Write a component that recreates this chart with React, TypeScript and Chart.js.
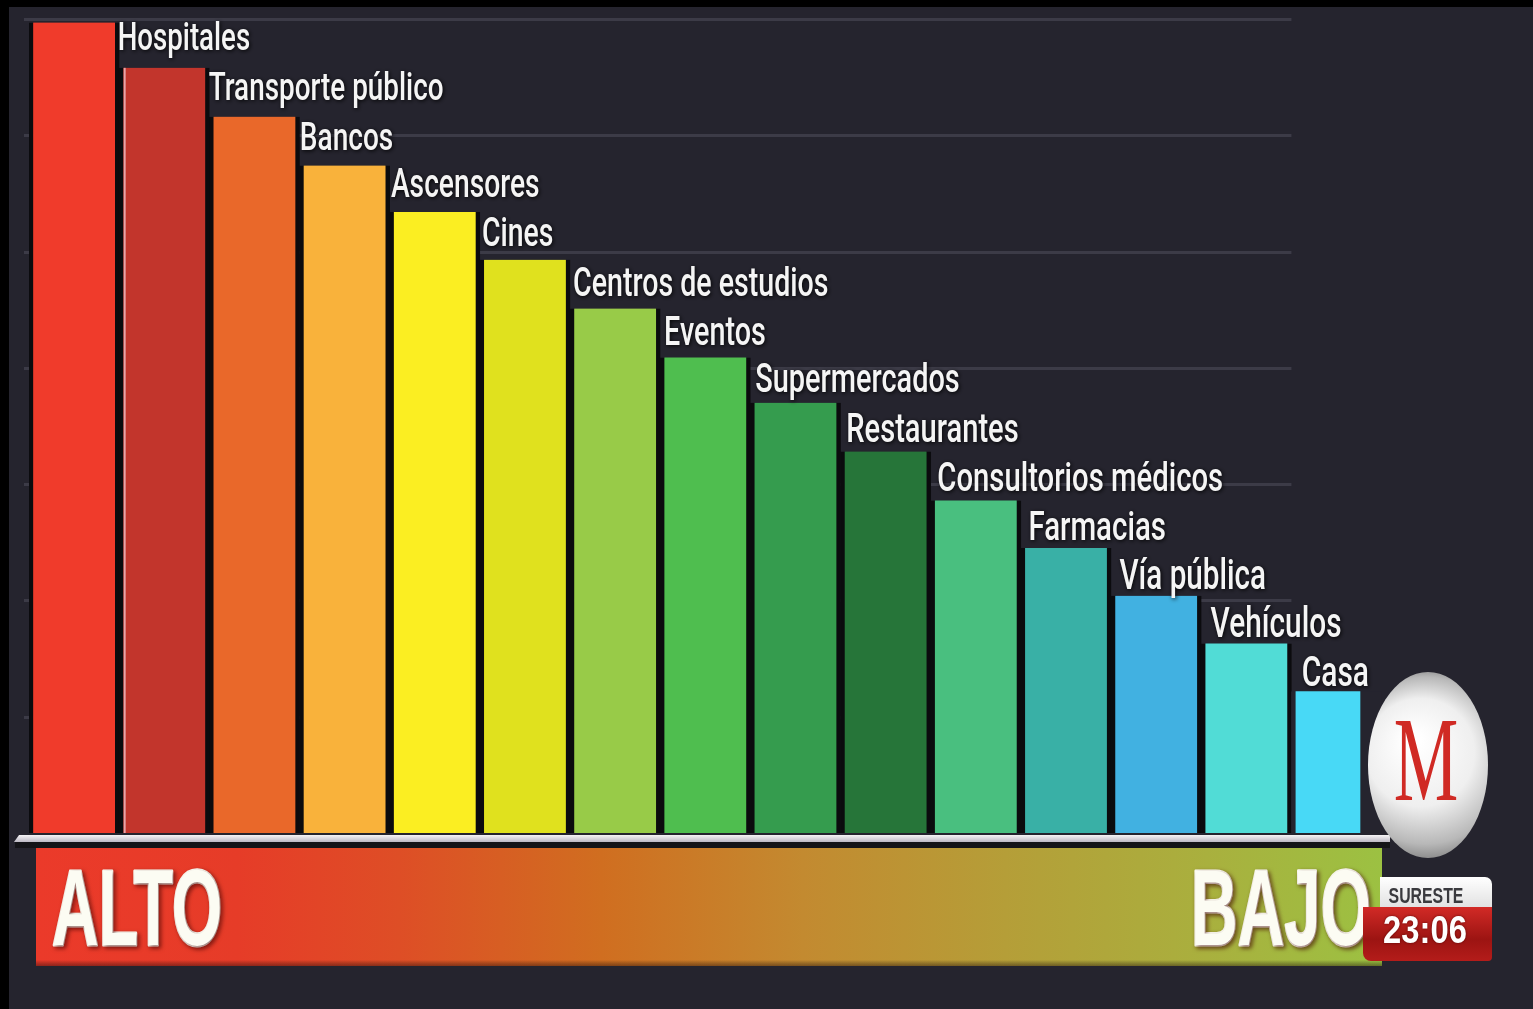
import React, { useEffect, useRef } from 'react';
import { Chart, registerables } from 'chart.js';

Chart.register(...registerables);

// ---- data ----
const categories = [
  'Hospitales',
  'Transporte público',
  'Bancos',
  'Ascensores',
  'Cines',
  'Centros de estudios',
  'Eventos',
  'Supermercados',
  'Restaurantes',
  'Consultorios médicos',
  'Farmacias',
  'Vía pública',
  'Vehículos',
  'Casa',
  '',
];
const riskValues = [6.97, 6.58, 6.16, 5.74, 5.34, 4.93, 4.51, 4.09, 3.7, 3.28, 2.86, 2.45, 2.04, 1.63, 1.22];
const barColors = [
  '#f03b2b', '#c2352c', '#e9682a', '#f9b23b', '#fbee22', '#e0e11e', '#98cb48', '#4fbe4f',
  '#359c4e', '#267539', '#49bf7f', '#39b0a6', '#41b1e1', '#51dcd6', '#48d9f6',
];
const gridTicks = [1, 2, 3, 4, 5, 6, 7];
const scaleLabels = ['ALTO', 'BAJO'];
const stationLabel = 'SURESTE';
const timeLabel = '23:06';
const logoLetter = 'M';

const BG = '#25242e';

const W = 1533;
const H = 1009;

function drawScaledText(
  ctx: CanvasRenderingContext2D,
  text: string,
  x: number,
  y: number,
  sx: number,
  align: 'left' | 'center' = 'left',
  strokeW = 0,
) {
  ctx.save();
  ctx.translate(x, y);
  ctx.scale(sx, 1);
  ctx.textAlign = align;
  if (strokeW > 0) {
    ctx.lineWidth = strokeW;
    ctx.strokeStyle = ctx.fillStyle as string;
    ctx.lineJoin = 'round';
    ctx.strokeText(text, 0, 0);
  }
  ctx.fillText(text, 0, 0);
  ctx.restore();
}

const decorPlugin = {
  id: 'decor',
  beforeDraw(chart: any) {
    const ctx: CanvasRenderingContext2D = chart.ctx;
    ctx.save();
    ctx.fillStyle = '#000000';
    ctx.fillRect(0, 0, chart.width, chart.height);
    ctx.fillStyle = BG;
    ctx.fillRect(9, 7, chart.width - 9, chart.height - 7);
    ctx.restore();
  },
  beforeDatasetsDraw(chart: any) {
    const ctx: CanvasRenderingContext2D = chart.ctx;
    const y = chart.scales.y;
    const meta = chart.getDatasetMeta(0);
    const a = meta.data[meta.data.length - 2];
    const b = meta.data[meta.data.length - 1];
    const xEnd = (a.x + b.x) / 2;
    const xStart = chart.chartArea.left - 5;
    ctx.save();
    ctx.strokeStyle = '#3c3b47';
    ctx.lineWidth = 3;
    gridTicks.forEach((t) => {
      const py = Math.round(y.getPixelForValue(t)) + 0.5;
      ctx.beginPath();
      ctx.moveTo(xStart, py);
      ctx.lineTo(xEnd, py);
      ctx.stroke();
    });
    ctx.restore();
  },
  afterDatasetsDraw(chart: any) {
    const ctx: CanvasRenderingContext2D = chart.ctx;
    const area = chart.chartArea;
    const meta = chart.getDatasetMeta(0);
    const bars = meta.data.map((el: any) => el.getProps(['x', 'y', 'base', 'width'], true));

    ctx.save();
    // light stripe on second bar's left edge
    {
      const b = bars[1];
      const left = b.x - b.width / 2 + 4.5;
      ctx.fillStyle = 'rgba(236,176,182,0.9)';
      ctx.fillRect(left, b.y, 2, b.base - b.y);
    }

    // baseline bar
    const lineTop = area.bottom + 2;
    const g1 = ctx.createLinearGradient(0, lineTop, 0, lineTop + 7);
    g1.addColorStop(0, '#f6f4f6');
    g1.addColorStop(1, '#bdb9c4');
    ctx.fillStyle = '#141418';
    ctx.fillRect(15, lineTop + 7, 1375, 6);
    ctx.fillStyle = g1;
    ctx.beginPath();
    ctx.moveTo(19, lineTop);
    ctx.lineTo(1390, lineTop);
    ctx.lineTo(1390, lineTop + 7);
    ctx.lineTo(14, lineTop + 7);
    ctx.closePath();
    ctx.fill();

    // gradient band
    const bandL = 36;
    const bandR = 1382;
    const bandT = lineTop + 13;
    const bandB = 966;
    const g2 = ctx.createLinearGradient(bandL, 0, bandR, 0);
    g2.addColorStop(0, '#eb3a2a');
    g2.addColorStop(0.15, '#e63c28');
    g2.addColorStop(0.27, '#de4e26');
    g2.addColorStop(0.42, '#d06e20');
    g2.addColorStop(0.57, '#c38a30');
    g2.addColorStop(0.72, '#b59e38');
    g2.addColorStop(0.87, '#a9b03e');
    g2.addColorStop(1, '#9cc142');
    ctx.fillStyle = g2;
    ctx.fillRect(bandL, bandT, bandR - bandL, bandB - bandT);
    const g3 = ctx.createLinearGradient(0, bandB - 6, 0, bandB);
    g3.addColorStop(0, 'rgba(0,0,0,0)');
    g3.addColorStop(1, 'rgba(30,10,10,0.45)');
    ctx.fillStyle = g3;
    ctx.fillRect(bandL, bandB - 6, bandR - bandL, 6);

    // ALTO / BAJO
    ctx.font = 'bold 108px "Liberation Sans", Arial, sans-serif';
    ctx.textBaseline = 'alphabetic';
    ctx.fillStyle = '#fcfcf3';
    ctx.shadowColor = 'rgba(60,0,0,0.55)';
    ctx.shadowBlur = 4;
    ctx.shadowOffsetX = 2;
    ctx.shadowOffsetY = 2;
    drawScaledText(ctx, scaleLabels[0], 52, 945, 0.6, 'left', 3);
    drawScaledText(ctx, scaleLabels[1], 1191, 945, 0.6, 'left', 3);
    ctx.shadowColor = 'transparent';
    ctx.shadowBlur = 0;
    ctx.shadowOffsetX = 0;
    ctx.shadowOffsetY = 0;

    // category labels (placed right of each bar, above the next one)
    ctx.fillStyle = '#f5f5f5';
    ctx.shadowColor = 'rgba(0,0,0,0.9)';
    ctx.shadowBlur = 4;
    ctx.shadowOffsetX = 1;
    ctx.shadowOffsetY = 1;
    for (let i = 0; i < categories.length - 1; i++) {
      const label = categories[i];
      if (!label) continue;
      const next = bars[i + 1];
      const fs = 39 + 0.25 * i;
      ctx.font = `500 ${fs}px Roboto, "Noto Sans", sans-serif`;
      const x = next.x - next.width / 2 + 4.5 - 6 + 0.9 * i;
      const base = next.y - (18 - i);
      drawScaledText(ctx, label, x, base, 0.71);
    }
    ctx.shadowColor = 'transparent';
    ctx.shadowBlur = 0;
    ctx.shadowOffsetX = 0;
    ctx.shadowOffsetY = 0;

    // station / time box
    const rr = (x: number, y: number, w: number, h: number, r: [number, number, number, number]) => {
      ctx.beginPath();
      ctx.roundRect(x, y, w, h, r);
    };
    const g4 = ctx.createLinearGradient(0, 907, 0, 961);
    g4.addColorStop(0, '#d22a26');
    g4.addColorStop(0.6, '#9c1412');
    g4.addColorStop(1, '#b41c1a');
    ctx.fillStyle = g4;
    rr(1363, 907, 129, 54, [0, 0, 4, 8]);
    ctx.fill();
    const g5 = ctx.createLinearGradient(0, 877, 0, 907);
    g5.addColorStop(0, '#ffffff');
    g5.addColorStop(1, '#e2e2e2');
    ctx.fillStyle = g5;
    rr(1380, 877, 112, 30, [0, 7, 0, 0]);
    ctx.fill();
    ctx.fillStyle = '#3a3a3e';
    ctx.font = 'bold 22px "Liberation Sans", Arial, sans-serif';
    drawScaledText(ctx, stationLabel, 1426, 903, 0.72, 'center');
    ctx.fillStyle = '#ffffff';
    ctx.shadowColor = 'rgba(60,0,0,0.7)';
    ctx.shadowBlur = 3;
    ctx.font = 'bold 39px "Liberation Sans", Arial, sans-serif';
    drawScaledText(ctx, timeLabel, 1425, 943, 0.84, 'center');
    ctx.shadowColor = 'transparent';
    ctx.shadowBlur = 0;

    // logo sphere
    const cx = 1428;
    const cy = 765;
    const g6 = ctx.createRadialGradient(cx - 15, cy - 25, 8, cx, cy, 100);
    g6.addColorStop(0, '#ffffff');
    g6.addColorStop(0.5, '#efefef');
    g6.addColorStop(0.82, '#b8b8b8');
    g6.addColorStop(1, '#7a7a7a');
    ctx.fillStyle = g6;
    ctx.beginPath();
    ctx.ellipse(cx, cy, 60, 93, 0, 0, Math.PI * 2);
    ctx.fill();
    const g7 = ctx.createLinearGradient(0, 720, 0, 800);
    g7.addColorStop(0, '#d02a24');
    g7.addColorStop(1, '#7c0e0e');
    ctx.fillStyle = g7;
    ctx.font = '121px "Liberation Serif", "Times New Roman", serif';
    drawScaledText(ctx, logoLetter, cx - 2, 800, 0.6, 'center');
    ctx.restore();
  },
};

export default function App() {
  const canvasRef = useRef<HTMLCanvasElement | null>(null);

  useEffect(() => {
    const canvas = canvasRef.current;
    if (!canvas) return;
    const last = riskValues.length - 1;
    const chart = new Chart(canvas, {
      type: 'bar',
      data: {
        labels: categories,
        datasets: [
          {
            data: riskValues,
            backgroundColor: barColors,
            borderColor: (c: any) => (c.dataIndex === last ? BG : '#0b0b0e'),
            borderWidth: (c: any) =>
              c.dataIndex === last
                ? { left: 4.5, right: 21.6, top: 0, bottom: 0 }
                : { left: 4.5, right: 4.5, top: 0, bottom: 0 },
            borderSkipped: false,
            categoryPercentage: 1,
            barPercentage: 1,
          } as any,
        ],
      },
      plugins: [decorPlugin],
      options: {
        responsive: false,
        animation: false,
        devicePixelRatio: 1,
        layout: { padding: { left: 29, right: 151.4, top: 19, bottom: 176 } },
        scales: {
          x: { type: 'category', display: false, offset: true },
          y: { display: false, min: 0, max: 7 },
        },
        plugins: {
          legend: { display: false },
          tooltip: { enabled: false },
        },
      },
    });
    return () => chart.destroy();
  }, []);

  return (
    <div style={{ position: 'fixed', left: 0, top: 0, width: W, height: H, background: BG }}>
      <canvas ref={canvasRef} width={W} height={H} style={{ display: 'block' }} />
    </div>
  );
}
